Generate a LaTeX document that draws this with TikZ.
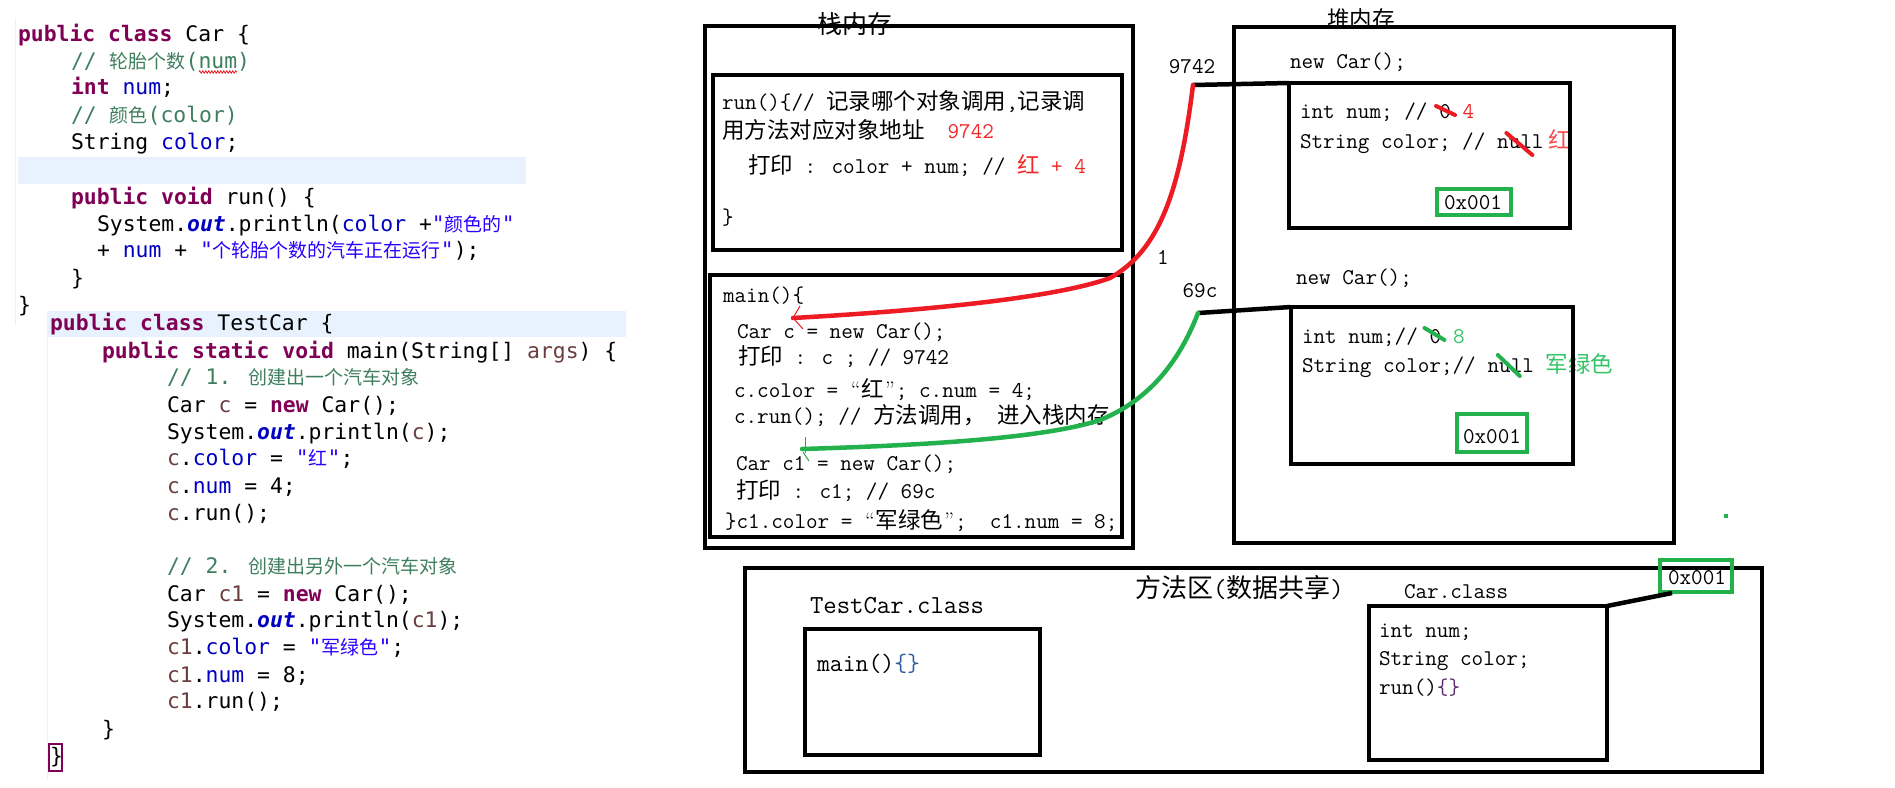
\documentclass[tikz,border=0pt]{standalone}
\usepackage{fontspec}
\newfontfamily\cjk{Noto Sans CJK SC}
\newfontfamily\codefont{DejaVu Sans Mono}
\usetikzlibrary{calc,decorations.pathmorphing}
\definecolor{kwc}{HTML}{7F0055}
\definecolor{cmc}{HTML}{3F7F5F}
\definecolor{fldc}{HTML}{0000C0}
\definecolor{strc}{HTML}{2A00FF}
\definecolor{lvc}{HTML}{6A3E3E}
\definecolor{bandc}{HTML}{E8F2FE}
\definecolor{sred}{HTML}{ED1C24}
\definecolor{sgrn}{HTML}{22B14C}
\definecolor{rtxt}{HTML}{F02828}
\definecolor{ptxt}{HTML}{FF4A4A}
\definecolor{gtxt}{HTML}{33C466}
\definecolor{bracec}{HTML}{2E5E9E}
\definecolor{bracep}{HTML}{5A2A6A}
\newcommand\zh[1]{{\cjk #1}}
\newcommand\zc[1]{{\cjk\fontsize{19}{24}\selectfont #1}}
\newcommand\jkw[1]{{\color{kwc}\bfseries #1}}
\newcommand\jcm[1]{{\color{cmc}#1}}
\newcommand\jfd[1]{{\color{fldc}#1}}
\newcommand\jst[1]{{\color{strc}#1}}
\newcommand\jlv[1]{{\color{lvc}#1}}
\newcommand\jsf[1]{{\color{fldc}\bfseries\itshape #1}}
\newcommand\qopen{\makebox[11.8pt][c]{\rmfamily “}}
\newcommand\qclose{\makebox[11.8pt][c]{\rmfamily ”}}
\newcommand\dfont{\ttfamily\fontsize{22.5}{27}\selectfont}
\tikzset{
 box/.style={draw=black, line width=4.5pt, inner sep=0pt, outer sep=0pt, anchor=north west},
 gbox/.style={draw=sgrn, line width=4.5pt, inner sep=0pt, outer sep=0pt},
 dt/.style={font=\dfont, inner sep=0pt, outer sep=0pt, anchor=west, text height=17pt, text depth=5pt},
 dtl/.style={dt, font=\ttfamily\fontsize{26}{30}\selectfont, text height=19pt, text depth=6pt},
 ct/.style={font=\codefont\fontsize{21.4}{26}\selectfont, inner sep=0pt, outer sep=0pt, anchor=west, text height=16pt, text depth=4pt},
 lab/.style={font=\cjk\fontsize{25}{30}\selectfont, inner sep=0pt},
 conn/.style={draw=black, line width=4.5pt},
 redc/.style={draw=sred, line width=4.5pt, line cap=round},
 grnc/.style={draw=sgrn, line width=4.5pt, line cap=round},
 strk/.style={line width=4pt, line cap=round},
}
\begin{document}
\begin{tikzpicture}[x=1pt,y=-1pt]
\useasboundingbox (0,0) rectangle (1895,787);
\fill[white] (0,0) rectangle (1895,787);

% ---------------- code editor ----------------
\fill[bandc] (18,157) rectangle (526,184);
\fill[bandc] (48,311) rectangle (626,337);
\draw[gray!12, line width=1pt] (15,18) -- (15,325);
\draw[gray!12, line width=1pt] (47,312) -- (47,780);

\node[ct] (c1) at (18,35) {\jkw{public} \jkw{class} Car \{};
\node[ct] (c2) at (71,62) {\jcm{// \zc{轮胎个数}(num)}};
\draw[sred, line width=0.8pt, decorate, decoration={zigzag, amplitude=1.2pt, segment length=3pt}] (199,72) -- (237,72);
\node[ct] (c3) at (71,88) {\jkw{int} \jfd{num};};
\node[ct] (c4) at (71,116) {\jcm{// \zc{颜色}(color)}};
\node[ct] (c5) at (71,143) {String \jfd{color};};
\node[ct] (c6) at (71,198) {\jkw{public} \jkw{void} run() \{};
\node[ct] (c7) at (97,225) {System.\jsf{out}.println(\jfd{color} +\jst{"\zc{颜色的}"}};
\node[ct] (c8) at (97,251) {+ \jfd{num} + \jst{"\zc{个轮胎个数的汽车正在运行}"});};
\node[ct] (c9) at (71,279) {\}};
\node[ct] (c10) at (18,306) {\}};
\node[ct] (c11) at (50,324) {\jkw{public} \jkw{class} TestCar \{};
\node[ct] (c12) at (102,352) {\jkw{public} \jkw{static} \jkw{void} main(String[] \jlv{args}) \{};
\node[ct] (c13) at (167,378) {\jcm{// 1. \zc{创建出一个汽车对象}}};
\node[ct] (c14) at (167,406) {Car \jlv{c} = \jkw{new} Car();};
\node[ct] (c15) at (167,433) {System.\jsf{out}.println(\jlv{c});};
\node[ct] (c16) at (167,459) {\jlv{c}.\jfd{color} = \jst{"\zc{红}"};};
\node[ct] (c17) at (167,487) {\jlv{c}.\jfd{num} = 4;};
\node[ct] (c18) at (167,514) {\jlv{c}.run();};
\node[ct] (c19) at (167,567) {\jcm{// 2. \zc{创建出另外一个汽车对象}}};
\node[ct] (c20) at (167,595) {Car \jlv{c1} = \jkw{new} Car();};
\node[ct] (c21) at (167,621) {System.\jsf{out}.println(\jlv{c1});};
\node[ct] (c22) at (167,648) {\jlv{c1}.\jfd{color} = \jst{"\zc{军绿色}"};};
\node[ct] (c23) at (167,676) {\jlv{c1}.\jfd{num} = 8;};
\node[ct] (c24) at (167,702) {\jlv{c1}.run();};
\node[ct] (c25) at (102,730) {\}};
\node[ct] (c26) at (50,757) {\}};
\draw[kwc, line width=1.2pt] (49,744) rectangle (62,771);

% ---------------- stack ----------------
\node[lab] (stacklab) at (855,24) {栈内存};
\node[dt] (r1) at (722,103) {run()\{// \zh{记录哪个对象调用},\zh{记录调}};
\node[dt] (r2) at (722,132) {\zh{用方法对应对象地址}\ \ \textcolor{rtxt}{9742}};
\node[dt] (r3) at (748,167) {\zh{打印} : color + num; // \textcolor{rtxt}{\zh{红} + 4}};
\node[dt] (r4) at (722,218) {\}};

\node[dt] (m1) at (723,296) {main()\{};
\node[dt] (m2) at (737,332) {Car c = new Car();};
\node[dt] (m3) at (738,358) {\zh{打印} : c ; // 9742};
\node[dt] (m4) at (734,391) {c.color = \qopen\zh{红}\qclose; c.num = 4;};
\node[dt] (m5) at (734,417) {c.run(); // \zh{方法调用，}\ \zh{进入栈内存}};
\node[dt] (m6) at (736,464) {Car c1 = new Car();};
\node[dt] (m7) at (736,492) {\zh{打印} : c1; // 69c};
\node[dt] (m8) at (725,522) {\}c1.color = \qopen\zh{军绿色}\qclose;\ \ c1.num = 8;};

\node[box, minimum width=428pt, minimum height=522pt] (stack) at (705,26) {};
\node[box, minimum width=409pt, minimum height=175pt] (runbox) at (713,75) {};
\node[box, minimum width=412pt, minimum height=262pt] (mainbox) at (710,275) {};

% ---------------- heap ----------------
\node[font=\cjk\fontsize{22.5}{27}\selectfont, inner sep=0pt] (heaplab) at (1361,19) {堆内存};
\node[dt] (n1) at (1290,62) {new Car();};
\node[dt] (o1a) at (1300,112) {int num; //};
\node[dt, anchor=base west] (o1z) at ([xshift=11.8pt]o1a.base east) {0};
\node[dt, anchor=base west, text=rtxt] (o1f) at ([xshift=11.8pt]o1z.base east) {4};
\node[dt] (o1b) at (1300,142) {String color; //};
\node[dt, anchor=base west] (o1n) at ([xshift=11.8pt]o1b.base east) {null};
\node[dt, anchor=base west, text=ptxt] (o1r) at ([xshift=5pt]o1n.base east) {\zh{红}};

\node[dt] (n2) at (1296,278) {new Car();};
\node[dt] (o2a) at (1302,337) {int num;//};
\node[dt, anchor=base west] (o2z) at ([xshift=11.8pt]o2a.base east) {0};
\node[dt, anchor=base west, text=gtxt] (o2e) at ([xshift=11.8pt]o2z.base east) {8};
\node[dt] (o2b) at (1302,366) {String color;//};
\node[dt, anchor=base west] (o2n) at ([xshift=11.8pt]o2b.base east) {null};
\node[dt, anchor=base west, text=gtxt] (o2g) at ([xshift=11.8pt]o2n.base east) {\zh{军绿色}};

\node[box, minimum width=440pt, minimum height=516pt] (heap) at (1234,27) {};
\node[box, minimum width=281pt, minimum height=145pt] (obj1) at (1289,83) {};
\node[box, minimum width=282pt, minimum height=157pt] (obj2) at (1291,307) {};
\node[gbox, minimum width=74pt, minimum height=26pt] (g1) at (1474,202) {};
\node[dt, anchor=center] (g1t) at (1473,203) {0x001};
\node[gbox, minimum width=70pt, minimum height=38pt] (g2) at (1492,433) {};
\node[dt, anchor=center] (g2t) at (1492,437) {0x001};

% strikes
\draw[strk, sred] ($(o1z.center)+(-9,-6)$) -- ($(o1z.center)+(10,3)$);
\draw[strk, sred] ($(o1n.center)+(-14,-9)$) -- ($(o1n.center)+(12,13)$);
\draw[strk, sgrn] ($(o2z.center)+(-11,-9)$) -- ($(o2z.center)+(9,3)$);
\draw[strk, sgrn] ($(o2n.center)+(-13,-11)$) -- ($(o2n.center)+(9,10)$);

% ---------------- method area ----------------
\node[dt, font=\cjk\fontsize{26}{30}\selectfont, text height=21pt, text depth=6pt] (mlab) at (1135,590) {方法区{\ttfamily(}数据共享{\ttfamily)}};
\node[dtl] (tclab) at (810,607) {TestCar.class};
\node[dt, font=\ttfamily\fontsize{25}{30}\selectfont] (tcm) at (817,665) {main()\textcolor{bracec}{\{\}}};
\node[dt] (cclab) at (1404,592) {Car.class};
\node[dt] (cc1) at (1379,631) {int num;};
\node[dt] (cc2) at (1379,659) {String color;};
\node[dt] (cc3) at (1379,688) {run()\textcolor{bracep}{\{\}}};

\node[box, minimum width=1017pt, minimum height=204pt] (method) at (745,568) {};
\node[box, minimum width=235pt, minimum height=126pt] (tcbox) at (805,629) {};
\node[box, minimum width=238pt, minimum height=154pt] (carcls) at (1369,606) {};
\node[gbox, minimum width=72pt, minimum height=32pt] (g3) at (1696,576) {};
\node[dt, anchor=center] (g3t) at (1697,578) {0x001};

% ---------------- labels & connectors ----------------
\node[dt, anchor=center] (l9742) at (1192,67) {9742};
\node[dt, anchor=center] (lone) at (1163,258) {1};
\node[dt, anchor=center] (l69c) at (1200,291) {69c};
\coordinate (p9742) at (1193,85);
\coordinate (p69c) at (1198,313);
\coordinate (redend) at (793,318);
\coordinate (grnend) at (802,449);
\coordinate (g3foot) at ($(g3.south west)+(12,1)$);

\draw[conn] (p9742) -- (obj1.north west);
\draw[conn] (p69c) -- (obj2.north west);
\draw[conn] (carcls.north east) -- (g3foot);

\draw[redc] (p9742) .. controls (1180,190) and (1160,250) .. (1110,278)
  .. controls (1050,300) and (900,312) .. (redend);
\draw[sred, line width=1pt] ($(redend)+(7,-12)$) -- (redend) -- ($(redend)+(10,11)$);

\draw[grnc] (p69c) .. controls (1180,360) and (1150,400) .. (1100,420)
  .. controls (1040,440) and (900,446) .. (grnend);
\draw[sgrn, line width=1pt] ($(grnend)+(3,-12)$) -- ($(grnend)+(3,4)$);
\draw[sgrn, line width=1pt] ($(grnend)+(1,3)$) -- ($(grnend)+(7,12)$);

\fill[sgrn] (1724,514) rectangle (1728,518);
\end{tikzpicture}
\end{document}
